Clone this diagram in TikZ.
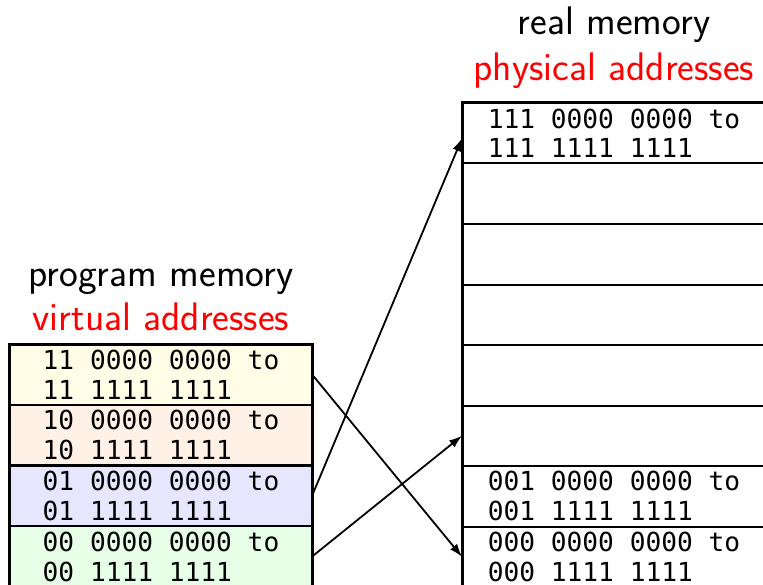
\documentclass[tikz,border=0pt]{standalone}
\usepackage{fontspec}
\newfontfamily\monofont{DejaVu Sans Mono}
\usetikzlibrary{arrows.meta,calc}
\definecolor{cyel}{RGB}{255,253,230}
\definecolor{cora}{RGB}{255,241,230}
\definecolor{cblu}{RGB}{230,230,255}
\definecolor{cgre}{RGB}{230,255,230}
\tikzset{
  cell/.style={draw=black, line width=2bp, minimum width=302bp, minimum height=60.75bp,
    inner sep=0pt, outer sep=0pt, align=left, font=\monofont\fontsize{26.3}{30}\selectfont},
  rcell/.style={cell, minimum width=304bp, minimum height=60.5bp, fill=white},
  head/.style={font=\sffamily\fontsize{40}{46}\selectfont, anchor=base, inner sep=0pt},
  arr/.style={line width=1.8bp, -{Latex[length=13bp,width=9bp]}},
}
\begin{document}
\begin{tikzpicture}[x=1bp,y=-1bp]
\useasboundingbox (0,0) rectangle (763,585);
\clip (0,0) rectangle (763,585);
% headings
\node[head] (h1) at (161,286) {program memory};
\node[head, text=red] (h2) at (161,330) {virtual addresses};
\node[head] (h3) at (614,35) {real memory};
\node[head, text=red] (h4) at (614,81) {physical addresses};
% left column
\node[cell, fill=cyel] (l1) at (161,374.4) {11 0000 0000 to\\11 1111 1111};
\node[cell, fill=cora] (l2) at (161,435.1) {10 0000 0000 to\\10 1111 1111};
\node[cell, fill=cblu] (l3) at (161,495.9) {01 0000 0000 to\\01 1111 1111};
\node[cell, fill=cgre] (l4) at (161,556.6) {00 0000 0000 to\\00 1111 1111};
\draw[line width=3bp] (l1.north west) -- (l1.north east) -- (l4.south east) -- (l4.south west) -- cycle;
% right column
\node[rcell] (r1) at (614,133.25) {111 0000 0000 to\\111 1111 1111};
\node[rcell] (r2) at (614,193.75) {};
\node[rcell] (r3) at (614,254.25) {};
\node[rcell] (r4) at (614,314.75) {};
\node[rcell] (r5) at (614,375.25) {};
\node[rcell] (r6) at (614,435.75) {};
\node[rcell] (r7) at (614,496.25) {001 0000 0000 to\\001 1111 1111};
\node[rcell] (r8) at (614,556.75) {000 0000 0000 to\\000 1111 1111};
\draw[line width=3bp] (r8.south west) -- (r1.north west) -- (r1.north east);
% arrows
\draw[arr] (l1.east) -- (r8.west);
\draw[arr] (l3.east) -- ($(r1.west)+(0,5)$);
\draw[arr] (l4.east) -- (r6.west);
\end{tikzpicture}
\end{document}
